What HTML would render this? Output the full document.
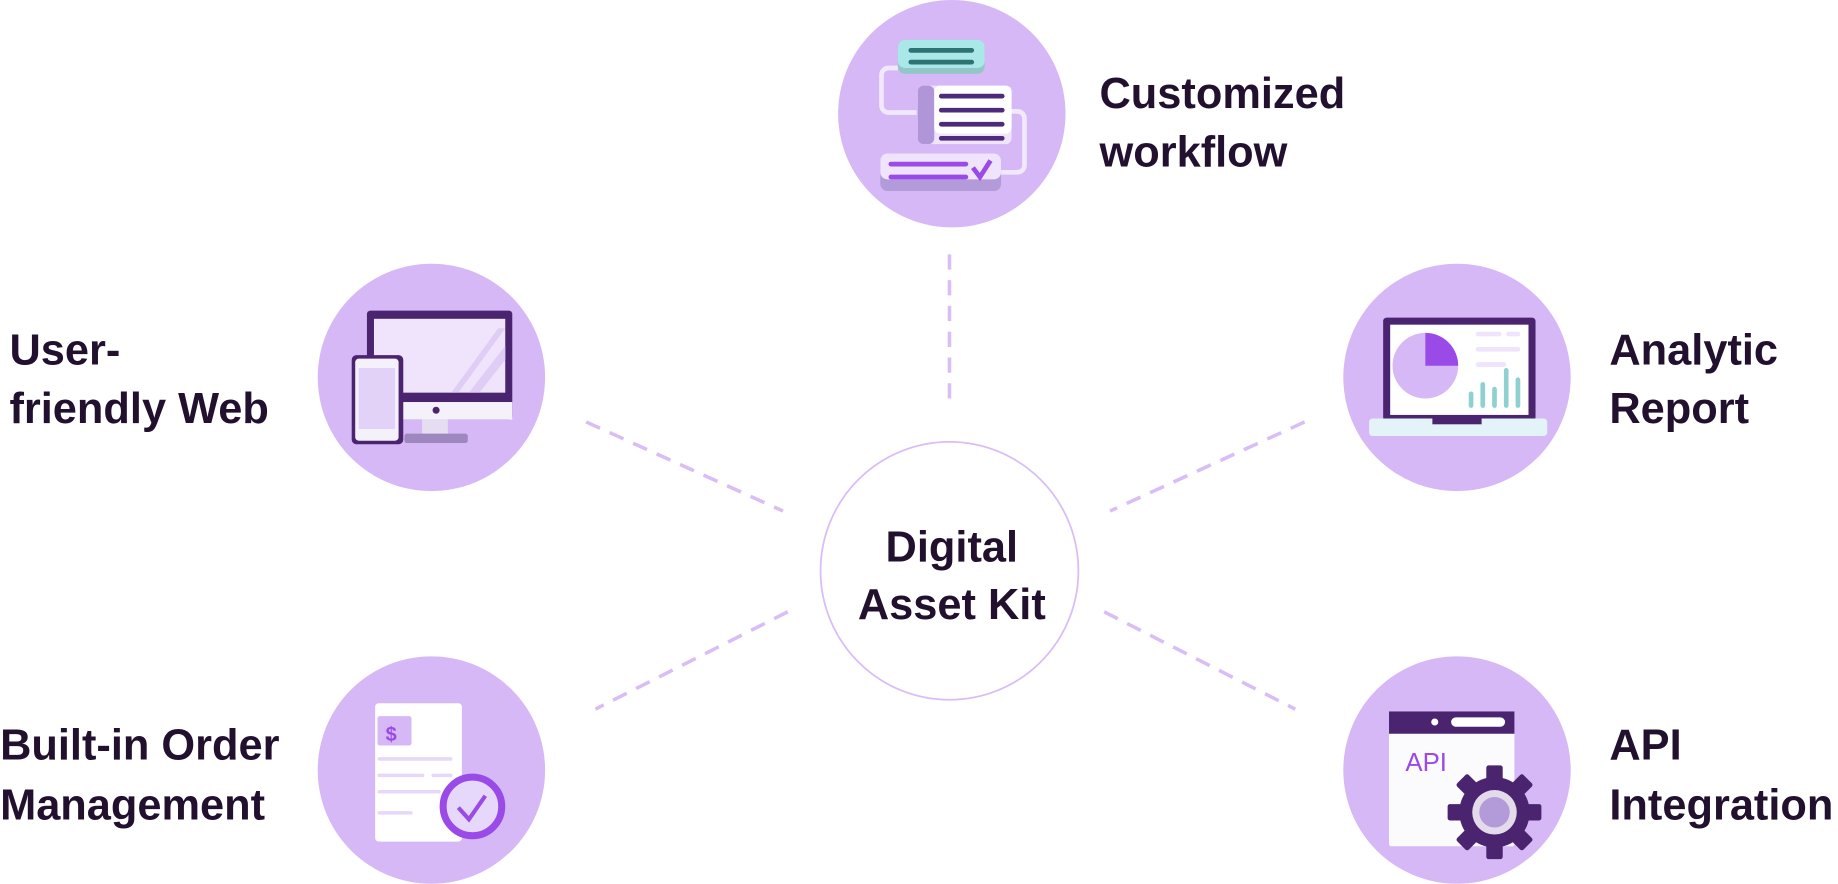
<!DOCTYPE html>
<html><head><meta charset="utf-8"><style>
html,body{margin:0;padding:0;background:#fff;}
svg{display:block}
text{font-family:"Liberation Sans",sans-serif;font-weight:bold;fill:#22102f;font-size:37px;}
</style></head><body>
<svg width="1838" height="884" viewBox="0 0 1568 754.2" xmlns="http://www.w3.org/2000/svg">
<g stroke="#d8bdf6" stroke-width="3" stroke-dasharray="13 9" fill="none">
<line x1="810" y1="217" x2="810" y2="345"/>
<line x1="500" y1="360" x2="668" y2="436"/>
<line x1="1113" y1="360" x2="947" y2="436"/>
<line x1="672" y1="522" x2="508" y2="605"/>
<line x1="942" y1="522" x2="1105" y2="605"/>
</g>
<circle cx="810" cy="487" r="110" fill="#fff" stroke="#d8bdf6" stroke-width="1.5"/>
<g fill="#d5b8f5">
<circle cx="812" cy="97" r="97"/>
<circle cx="368" cy="322" r="97"/>
<circle cx="1243" cy="322" r="97"/>
<circle cx="368" cy="657" r="97"/>
<circle cx="1243" cy="657" r="97"/>
</g>
<!-- workflow icon -->
<g>
<path d="M766 58 h-8 a6 6 0 0 0 -6 6 v26 a6 6 0 0 0 6 6 h24" stroke="#f1e8fc" stroke-width="4" fill="none"/>
<path d="M862 95 h6 a6 6 0 0 1 6 6 v40 a6 6 0 0 1 -6 6 h-14" stroke="#f1e8fc" stroke-width="4" fill="none"/>
<rect x="766" y="34" width="74" height="29" rx="6" fill="#93c7c7"/>
<rect x="766" y="34" width="74" height="24" rx="6" fill="#aae7e8"/>
<rect x="775" y="41" width="56" height="4" rx="2" fill="#2c7373"/>
<rect x="775" y="51" width="56" height="4" rx="2" fill="#2c7373"/>
<rect x="783" y="73" width="80" height="50" rx="5" fill="#efe4fb"/>
<rect x="783" y="73" width="14" height="50" rx="5" fill="#b195d9"/>
<rect x="797" y="73" width="66" height="41" rx="5" fill="#fff"/>
<rect x="801" y="80" width="56" height="4" rx="2" fill="#4e2a7c"/>
<rect x="801" y="92" width="56" height="4" rx="2" fill="#4e2a7c"/>
<rect x="801" y="104" width="56" height="4" rx="2" fill="#4e2a7c"/>
<rect x="801" y="116" width="56" height="4" rx="2" fill="#4e2a7c"/>
<rect x="751" y="131" width="103" height="32" rx="6" fill="#b39ad9"/>
<rect x="751" y="131" width="103" height="22" rx="6" fill="#efe4fb"/>
<rect x="758" y="138" width="68" height="4" rx="2" fill="#9a4ae6"/>
<rect x="758" y="149" width="68" height="4" rx="2" fill="#9a4ae6"/>
<path d="M830 143 l6 8 l9 -14" stroke="#9a4ae6" stroke-width="4" fill="none"/>
</g>
<!-- web icon -->
<g>
<rect x="313" y="265" width="124" height="93" rx="3" fill="#4b2470"/>
<rect x="319" y="272" width="112" height="63" fill="#efe4fb"/>
<path d="M385 335 l40 -55 h6 l-40 55z M400 335 l31 -40 v12 l-22 28z" fill="#e0cdf6"/>
<rect x="313" y="343" width="124" height="15" fill="#f5f1fa"/>
<circle cx="372" cy="350" r="3" fill="#4b2470"/>
<rect x="360" y="358" width="22" height="12" fill="#e6ddf1"/>
<rect x="345" y="370" width="54" height="8" rx="2" fill="#9e86bf"/>
<rect x="300" y="303" width="44" height="76" rx="4" fill="#4b2470"/>
<rect x="303" y="306" width="37" height="70" rx="3" fill="#f5f1fa"/>
<rect x="306" y="314" width="31" height="52" fill="#e2d2f7"/>
</g>
<!-- analytic icon -->
<g>
<rect x="1180" y="271" width="130" height="88" rx="3" fill="#4b2470"/>
<rect x="1186" y="277" width="118" height="77" fill="#fff"/>
<circle cx="1216" cy="312" r="28" fill="#d5b8f5"/>
<path d="M1216 284 a28 28 0 0 1 28 28 h-28z" fill="#9a4ae6"/>
<rect x="1259" y="283" width="22" height="4" rx="2" fill="#efe4fb"/>
<rect x="1285" y="283" width="12" height="4" rx="2" fill="#efe4fb"/>
<rect x="1259" y="296" width="38" height="4" rx="2" fill="#efe4fb"/>
<rect x="1259" y="309" width="26" height="4" rx="2" fill="#efe4fb"/>
<g fill="#8fd0d0"><rect x="1253" y="334" width="4" height="14" rx="2"/><rect x="1263" y="326" width="4" height="22" rx="2"/><rect x="1273" y="330" width="4" height="18" rx="2"/><rect x="1283" y="314" width="4" height="34" rx="2"/><rect x="1293" y="322" width="4" height="26" rx="2"/></g>
<rect x="1168" y="357" width="152" height="15" rx="3" fill="#e3f3f8"/>
<rect x="1222" y="355" width="42" height="7" fill="#4b2470"/>
</g>
<!-- order icon -->
<g>
<rect x="320" y="600" width="74" height="118" rx="3" fill="#fff"/>
<rect x="322" y="611" width="29" height="25" rx="2" fill="#d5b8f5"/>
<text x="329" y="632" style="font-size:17px;fill:#9a4ae6">$</text>
<rect x="322" y="646" width="64" height="3" rx="1.5" fill="#e6d8fa"/>
<rect x="322" y="660" width="40" height="3" rx="1.5" fill="#e6d8fa"/>
<rect x="368" y="660" width="18" height="3" rx="1.5" fill="#e6d8fa"/>
<rect x="322" y="674" width="54" height="3" rx="1.5" fill="#e6d8fa"/>
<rect x="322" y="692" width="30" height="3" rx="1.5" fill="#e6d8fa"/>
<circle cx="403" cy="688" r="25" fill="#e6d8fa" stroke="#9a4ae6" stroke-width="6"/>
<path d="M391 689 l9 10 l14 -20" stroke="#9a4ae6" stroke-width="3.5" fill="none"/>
</g>
<!-- api icon -->
<g>
<rect x="1185" y="607" width="107" height="115" rx="2" fill="#fbfbfd"/>
<rect x="1185" y="607" width="107" height="19" fill="#4b2470"/>
<circle cx="1224" cy="616" r="3" fill="#fff"/>
<rect x="1238" y="612" width="46" height="8" rx="4" fill="#fff"/>
<text x="1199" y="658" style="font-size:22px;fill:#9a4ae6;font-weight:normal">API</text>
<g transform="translate(1275 693)" fill="#4b2470">
<circle r="30"/>
<rect x="-7" y="-40" width="14" height="80" rx="2"/>
<rect x="-7" y="-40" width="14" height="80" rx="2" transform="rotate(45)"/>
<rect x="-7" y="-40" width="14" height="80" rx="2" transform="rotate(90)"/>
<rect x="-7" y="-40" width="14" height="80" rx="2" transform="rotate(135)"/>
<circle r="19" fill="#e3dbe9"/>
<circle r="13" fill="#b39ad9"/>
</g>
</g>
<text x="938" y="92">Customized</text>
<text x="938" y="142">workflow</text>
<text x="8" y="311">User-</text>
<text x="8" y="361">friendly Web</text>
<text x="1373" y="311">Analytic</text>
<text x="1373" y="361">Report</text>
<text x="0" y="648">Built-in Order</text>
<text x="0" y="699">Management</text>
<text x="1373" y="648">API</text>
<text x="1373" y="699">Integration</text>
<text x="812" y="479" text-anchor="middle">Digital</text>
<text x="812" y="528" text-anchor="middle">Asset Kit</text>
</svg>
</body></html>
